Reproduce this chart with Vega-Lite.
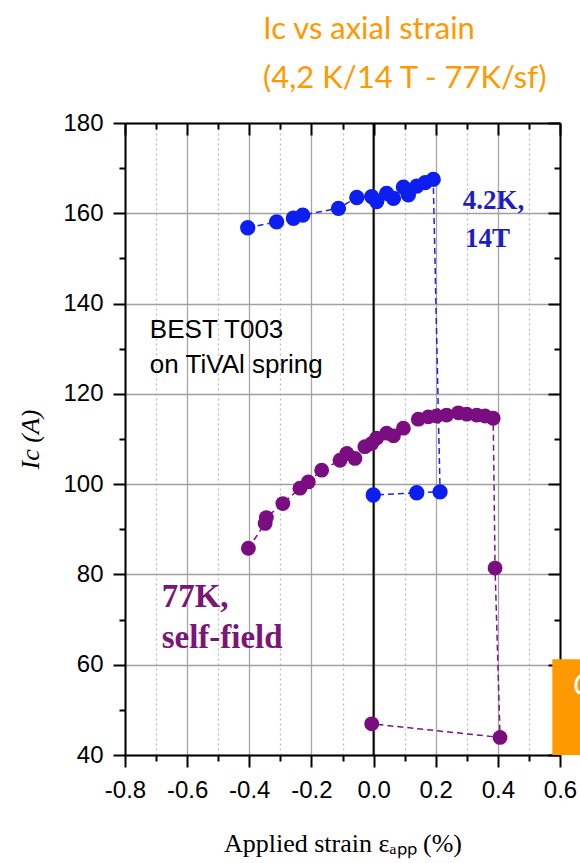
{
  "$schema": "https://vega.github.io/schema/vega-lite/v6.json",
  "width": 435,
  "height": 632,
  "autosize": "none",
  "padding": {"left": 125, "top": 123, "right": 20, "bottom": 108},
  "background": "white",
  "config": {
    "view": {"stroke": null},
    "axis": {
      "labelFont": "Liberation Sans",
      "labelFontSize": 24,
      "labelColor": "black",
      "domainColor": "black",
      "domainWidth": 2,
      "tickColor": "black",
      "tickWidth": 2
    }
  },
  "title": {
    "text": ["Ic vs axial strain", "(4,2 K/14 T - 77K/sf)"],
    "anchor": "start",
    "align": "left",
    "frame": "group",
    "dx": 138,
    "font": "Lato",
    "fontSize": 31,
    "fontWeight": "normal",
    "color": "#ff9900",
    "lineHeight": 49,
    "offset": 16
  },
  "datasets": {
    "blue": [
      {"order": 1, "strain": -0.405, "ic": 156.8},
      {"order": 2, "strain": -0.312, "ic": 158.1},
      {"order": 3, "strain": -0.258, "ic": 158.9},
      {"order": 4, "strain": -0.228, "ic": 159.6},
      {"order": 5, "strain": -0.113, "ic": 161.1},
      {"order": 6, "strain": -0.054, "ic": 163.5},
      {"order": 7, "strain": -0.006, "ic": 163.7},
      {"order": 8, "strain": 0.010, "ic": 162.6},
      {"order": 9, "strain": 0.042, "ic": 164.4},
      {"order": 10, "strain": 0.064, "ic": 163.3},
      {"order": 11, "strain": 0.096, "ic": 165.8},
      {"order": 12, "strain": 0.112, "ic": 164.1},
      {"order": 13, "strain": 0.139, "ic": 166.0},
      {"order": 14, "strain": 0.166, "ic": 166.8},
      {"order": 15, "strain": 0.192, "ic": 167.5},
      {"order": 16, "strain": 0.214, "ic": 98.3},
      {"order": 17, "strain": 0.139, "ic": 98.1},
      {"order": 18, "strain": -0.001, "ic": 97.6}
    ],
    "purple": [
      {"order": 1, "strain": -0.403, "ic": 85.8},
      {"order": 2, "strain": -0.349, "ic": 91.3},
      {"order": 3, "strain": -0.345, "ic": 92.6},
      {"order": 4, "strain": -0.292, "ic": 95.7},
      {"order": 5, "strain": -0.237, "ic": 99.1},
      {"order": 6, "strain": -0.210, "ic": 100.5},
      {"order": 7, "strain": -0.167, "ic": 103.1},
      {"order": 8, "strain": -0.108, "ic": 105.3},
      {"order": 9, "strain": -0.086, "ic": 106.8},
      {"order": 10, "strain": -0.060, "ic": 105.7},
      {"order": 11, "strain": -0.028, "ic": 108.3},
      {"order": 12, "strain": -0.006, "ic": 109.0},
      {"order": 13, "strain": 0.010, "ic": 110.2},
      {"order": 14, "strain": 0.042, "ic": 111.3},
      {"order": 15, "strain": 0.064, "ic": 110.7},
      {"order": 16, "strain": 0.096, "ic": 112.4},
      {"order": 17, "strain": 0.144, "ic": 114.4},
      {"order": 18, "strain": 0.176, "ic": 114.9},
      {"order": 19, "strain": 0.203, "ic": 115.1},
      {"order": 20, "strain": 0.235, "ic": 115.3},
      {"order": 21, "strain": 0.273, "ic": 115.8},
      {"order": 22, "strain": 0.300, "ic": 115.5},
      {"order": 23, "strain": 0.332, "ic": 115.3},
      {"order": 24, "strain": 0.359, "ic": 115.1},
      {"order": 25, "strain": 0.385, "ic": 114.6},
      {"order": 26, "strain": 0.391, "ic": 81.4},
      {"order": 27, "strain": 0.407, "ic": 43.9},
      {"order": 28, "strain": -0.006, "ic": 46.9}
    ]
  },
  "resolve": {"axis": {"x": "independent", "y": "independent"}},
  "layer": [
    {
      "data": {"values": [{"strain": 0}]},
      "mark": {"type": "rule", "color": "black", "strokeWidth": 2},
      "encoding": {
        "x": {
          "field": "strain", "type": "quantitative",
          "scale": {"domain": [-0.8, 0.6], "nice": false, "zero": false},
          "axis": {
            "orient": "bottom",
            "values": [-0.8,-0.7,-0.6,-0.5,-0.4,-0.3,-0.2,-0.1,0,0.1,0.2,0.3,0.4,0.5,0.6],
            "labelExpr": "abs(round(datum.value*10))%2==0 ? replace(format(datum.value,'.1f'),'−','-') : ''",
            "labelOverlap": false,
            "labelFlush": false,
            "labelPadding": 11,
            "tickSize": {"condition": {"test": "abs(round(datum.value*10))%2==1", "value": 6}, "value": 12},
            "grid": true,
            "gridColor": {"condition": {"test": "abs(round(datum.value*10))%2==1", "value": "#bdbdbd"}, "value": "#a6a6a6"},
            "gridDash": {"condition": {"test": "abs(round(datum.value*10))%2==1", "value": [2, 3]}, "value": []},
            "gridWidth": 1.3,
            "title": "Applied strain εₐₚₚ (%)",
            "titleFont": "Liberation Serif",
            "titleFontSize": 26,
            "titleFontWeight": "normal",
            "titleColor": "black",
            "titlePadding": 28
          }
        }
      }
    },
    {
      "data": {"name": "purple"},
      "mark": {"type": "line", "color": "#7a1680", "strokeWidth": 1.5, "strokeDash": [6, 4]},
      "encoding": {
        "x": {
          "field": "strain", "type": "quantitative",
          "scale": {"domain": [-0.8, 0.6], "nice": false, "zero": false},
          "axis": {
            "orient": "top",
            "values": [-0.8,-0.7,-0.6,-0.5,-0.4,-0.3,-0.2,-0.1,0,0.1,0.2,0.3,0.4,0.5,0.6],
            "labels": false,
            "grid": false,
            "tickSize": {"condition": {"test": "abs(round(datum.value*10))%2==1", "value": -6}, "value": -12},
            "title": null
          }
        },
        "y": {
          "field": "ic", "type": "quantitative",
          "scale": {"domain": [40, 180], "nice": false, "zero": false},
          "axis": {
            "orient": "left",
            "values": [40,50,60,70,80,90,100,110,120,130,140,150,160,170,180],
            "labelExpr": "datum.value%20==0 ? datum.label : ''",
            "labelOverlap": false,
            "labelFlush": false,
            "labelPadding": 10,
            "tickSize": {"condition": {"test": "datum.value%20!=0", "value": 6}, "value": 12},
            "grid": true,
            "gridColor": "#a0a0a0",
            "gridWidth": 1.3,
            "gridOpacity": {"condition": {"test": "datum.value%20!=0", "value": 0}, "value": 1},
            "title": "Ic (A)",
            "titleFont": "Liberation Serif",
            "titleFontStyle": "italic",
            "titleFontSize": 26,
            "titleFontWeight": "normal",
            "titleColor": "black",
            "titlePadding": 19
          }
        },
        "order": {"field": "order", "type": "quantitative"}
      }
    },
    {
      "data": {"name": "blue"},
      "mark": {"type": "line", "color": "#2222e0", "strokeWidth": 1.5, "strokeDash": [6, 4]},
      "encoding": {
        "x": {"field": "strain", "type": "quantitative", "scale": {"domain": [-0.8, 0.6], "nice": false, "zero": false}, "axis": null},
        "y": {
          "field": "ic", "type": "quantitative",
          "scale": {"domain": [40, 180], "nice": false, "zero": false},
          "axis": {
            "orient": "right",
            "values": [40,50,60,70,80,90,100,110,120,130,140,150,160,170,180],
            "labels": false,
            "grid": false,
            "tickSize": {"condition": {"test": "datum.value%20!=0", "value": -6}, "value": -12},
            "title": null
          }
        },
        "order": {"field": "order", "type": "quantitative"}
      }
    },
    {
      "data": {"name": "purple"},
      "mark": {"type": "circle", "color": "#7a0e80", "size": 220, "opacity": 1},
      "encoding": {
        "x": {"field": "strain", "type": "quantitative", "scale": {"domain": [-0.8, 0.6], "nice": false, "zero": false}, "axis": null},
        "y": {"field": "ic", "type": "quantitative", "scale": {"domain": [40, 180], "nice": false, "zero": false}, "axis": null}
      }
    },
    {
      "data": {"name": "blue"},
      "mark": {"type": "circle", "color": "#0d1ef0", "size": 235, "opacity": 1},
      "encoding": {
        "x": {"field": "strain", "type": "quantitative", "scale": {"domain": [-0.8, 0.6], "nice": false, "zero": false}, "axis": null},
        "y": {"field": "ic", "type": "quantitative", "scale": {"domain": [40, 180], "nice": false, "zero": false}, "axis": null}
      }
    },
    {
      "data": {"values": [
        {"label": "BEST T003", "strain": -0.72, "ic": 132.4},
        {"label": "on TiVAl spring", "strain": -0.72, "ic": 124.6}
      ]},
      "mark": {"type": "text", "align": "left", "baseline": "alphabetic", "font": "Liberation Sans", "fontSize": 26, "color": "black"},
      "encoding": {
        "x": {"field": "strain", "type": "quantitative", "scale": {"domain": [-0.8, 0.6], "nice": false, "zero": false}, "axis": null},
        "y": {"field": "ic", "type": "quantitative", "scale": {"domain": [40, 180], "nice": false, "zero": false}, "axis": null},
        "text": {"field": "label"}
      }
    },
    {
      "data": {"values": [
        {"label": "4.2K,", "strain": 0.287, "ic": 160.9},
        {"label": "14T", "strain": 0.294, "ic": 152.5}
      ]},
      "mark": {"type": "text", "align": "left", "baseline": "alphabetic", "font": "Liberation Serif", "fontWeight": "bold", "fontSize": 27, "color": "#1d1dc0"},
      "encoding": {
        "x": {"field": "strain", "type": "quantitative", "scale": {"domain": [-0.8, 0.6], "nice": false, "zero": false}, "axis": null},
        "y": {"field": "ic", "type": "quantitative", "scale": {"domain": [40, 180], "nice": false, "zero": false}, "axis": null},
        "text": {"field": "label"}
      }
    },
    {
      "data": {"values": [
        {"label": "77K,", "strain": -0.682, "ic": 72.7},
        {"label": "self-field", "strain": -0.682, "ic": 63.6}
      ]},
      "mark": {"type": "text", "align": "left", "baseline": "alphabetic", "font": "Liberation Serif", "fontWeight": "bold", "fontSize": 33, "color": "#7a1678"},
      "encoding": {
        "x": {"field": "strain", "type": "quantitative", "scale": {"domain": [-0.8, 0.6], "nice": false, "zero": false}, "axis": null},
        "y": {"field": "ic", "type": "quantitative", "scale": {"domain": [40, 180], "nice": false, "zero": false}, "axis": null},
        "text": {"field": "label"}
      }
    },
    {
      "data": {"values": [{"x1": 0.5753, "x2": 0.75, "y1": 40, "y2": 61.2}]},
      "mark": {"type": "rect", "color": "#ff9900", "clip": false},
      "encoding": {
        "x": {"field": "x1", "type": "quantitative", "scale": {"domain": [-0.8, 0.6], "nice": false, "zero": false}, "axis": null},
        "x2": {"field": "x2"},
        "y": {"field": "y1", "type": "quantitative", "scale": {"domain": [40, 180], "nice": false, "zero": false}, "axis": null},
        "y2": {"field": "y2"}
      }
    },
    {
      "data": {"values": [{"label": "C", "strain": 0.642, "ic": 53.3}]},
      "mark": {"type": "text", "align": "left", "baseline": "alphabetic", "font": "Lato", "fontStyle": "italic", "fontSize": 30, "color": "white", "clip": false},
      "encoding": {
        "x": {"field": "strain", "type": "quantitative", "scale": {"domain": [-0.8, 0.6], "nice": false, "zero": false}, "axis": null},
        "y": {"field": "ic", "type": "quantitative", "scale": {"domain": [40, 180], "nice": false, "zero": false}, "axis": null},
        "text": {"field": "label"}
      }
    }
  ]
}
